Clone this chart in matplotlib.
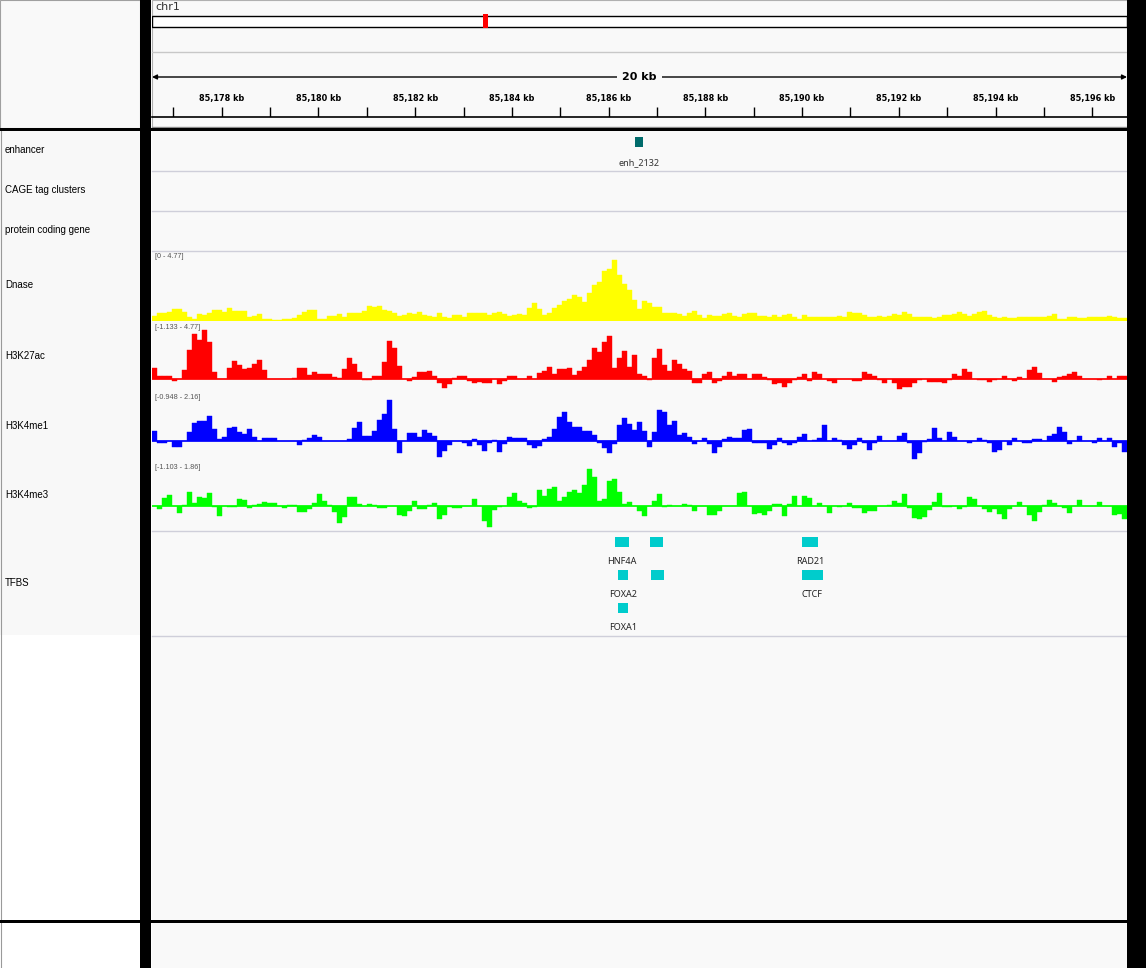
import matplotlib
matplotlib.use("Agg")
import matplotlib.pyplot as plt
import numpy as np
from matplotlib.patches import Rectangle

# ---------------- data ----------------
chrom_name = "chr1"
chrom_len_mb = 248.956422
region_start_kb = 85176.559
region_end_kb = 85196.717
n_bins = 195
span_label = "20 kb"
ruler_ticks_kb = list(range(85177, 85197))
ruler_labels_kb = list(range(85178, 85197, 2))

track_names = ["enhancer", "CAGE tag clusters", "protein coding gene", "Dnase",
               "H3K27ac", "H3K4me1", "H3K4me3", "TFBS"]

dnase = [0.36,0.52,0.57,0.64,0.8,0.84,0.61,0.3,0.16,0.48,0.41,0.57,0.75,0.75,0.61,0.89,0.7,0.66,0.66,0.25,
         0.36,0.5,0.16,0.11,0.07,0.07,0.11,0.16,0.23,0.39,0.59,0.75,0.75,0.16,0.16,0.36,0.36,0.45,0.3,0.57,
         0.57,0.52,0.7,1.02,0.93,1.02,0.75,0.66,0.57,0.34,0.41,0.55,0.45,0.61,0.39,0.34,0.3,0.52,0.3,0.18,
         0.39,0.39,0.3,0.52,0.52,
         0.57,0.57,0.41,0.57,0.64,0.48,0.34,0.41,0.48,0.39,0.89,1.2,0.8,0.39,0.52,0.89,1.09,1.36,1.48,1.75,
         1.61,1.3,1.93,2.43,2.66,3.39,3.52,4.16,3.16,2.52,2.11,1.43,0.8,1.36,1.2,0.93,0.93,0.52,0.52,0.52,
         0.45,0.34,0.52,0.66,0.41,0.23,0.41,0.34,0.34,0.48,0.52,0.34,0.3,0.48,0.52,0.52,0.36,0.34,0.3,0.39,
         0.3,0.39,0.48,0.25,0.11,
         0.39,0.25,0.25,0.25,0.25,0.25,0.3,0.36,0.3,0.6,0.52,0.55,0.4,0.3,0.3,0.36,0.3,0.34,0.5,0.4,
         0.6,0.5,0.3,0.3,0.3,0.25,0.2,0.3,0.4,0.4,0.45,0.6,0.45,0.36,0.45,0.6,0.7,0.4,0.25,0.2,
         0.3,0.2,0.2,0.25,0.3,0.3,0.3,0.3,0.3,0.36,0.5,0.15,0.15,0.3,0.25,0.2,0.2,0.3,0.3,0.25,
         0.3,0.36,0.3,0.2,0.2]

h3k27ac = [0.87,0.2,0.2,0.25,-0.2,0,0.7,2.39,3.74,3.23,4.07,3.06,0.53,0,0,0.87,1.49,1.12,0.81,0.87,
           1.21,1.54,0.7,0,0,0,0,0,0.08,0.93,0.93,0.31,0.53,0.42,0.42,0.37,0.14,0.05,0.81,1.71,
           1.21,0.53,-0.11,-0.08,0.2,0.25,1.38,3.17,2.56,1.04,0,-0.2,0.14,0.53,0.53,0.65,0.2,-0.37,-0.76,-0.48,
           0.08,0.2,0.2,-0.2,-0.37,
           -0.3,-0.37,-0.37,0,-0.42,-0.22,0.2,0.2,0,0,0.2,0,0.48,0.65,0.98,0.37,0.81,0.81,0.87,0.28,
           0.65,0.98,1.54,2.56,2.22,3.06,3.62,0.87,1.74,2.33,0.98,1.99,0.42,0.2,-0.08,1.71,2.5,1.12,0.65,1.54,
           1.21,0.81,0.65,-0.37,-0.37,0.37,0.59,-0.37,-0.2,0.2,0.53,0.2,0.37,0.37,0,0.37,0.37,0.14,-0.14,-0.42,
           -0.37,-0.7,-0.37,-0.14,0.14,
           0.37,-0.2,0.59,0.37,0,-0.2,-0.37,0,0,0,-0.2,-0.2,0.53,0.37,0.2,-0.08,-0.37,0,-0.37,-0.87,
           -0.7,-0.7,-0.37,-0.14,0,-0.25,-0.25,-0.25,-0.37,-0.08,0.37,0.25,0.79,0.53,0,-0.08,-0.08,-0.28,-0.08,0,
           0.2,0,-0.2,0.11,0,0.7,0.96,0.45,0,0,-0.28,0.11,0.2,0.37,0.53,0.2,0,0,0,-0.08,
           0,0.2,0,0.25,0.2]

h3k4me1 = [0.44,-0.09,-0.12,0,-0.3,-0.3,0,0.38,0.77,0.89,0.89,1.09,0.53,0.06,0.18,0.56,0.62,0.38,0.3,0.52,
           0.18,0,0.12,0.12,0.12,0,0,0,0,-0.21,0.03,0.12,0.25,0.18,0,0,0,0,0,0.09,
           0.56,0.83,0.21,0.21,0.41,0.92,1.18,1.8,0.5,-0.56,0,0.36,0.36,0.18,0.47,0.33,0.22,-0.71,-0.44,-0.21,
           0,0,-0.12,-0.24,0.09,
           -0.19,-0.44,-0.12,0.03,-0.49,-0.15,0.15,0.1,0.1,0.1,-0.21,-0.34,-0.24,0.06,0.15,0.5,1.07,1.27,0.83,0.61,
           0.61,0.43,0.43,0.25,-0.09,-0.34,-0.56,-0.15,0.71,1.01,0.74,0.47,0.83,0.41,-0.3,0.38,1.36,1.27,0.71,0.86,
           0.27,0.36,0.18,-0.16,0,0.1,-0.15,-0.56,-0.27,0.06,0.15,0.1,0.1,0.47,0.5,-0.09,-0.09,-0.12,-0.36,-0.19,
           0.1,-0.12,-0.21,-0.09,0.15,
           0.3,0,0.03,0.12,0.7,0,0.12,0.03,-0.19,-0.36,-0.19,0.12,-0.12,-0.41,-0.12,0.21,0,0,0,0.21,
           0.33,-0.09,-0.8,-0.56,-0.06,0.09,0.56,0.12,0,0.38,0.16,0,0,-0.09,0,0.12,0.03,-0.12,-0.49,-0.41,
           0,-0.19,0.12,0,-0.09,-0.12,0.06,0.09,0,0.22,0.3,0.61,0.38,-0.15,0,0.21,0,0,-0.12,0.12,
           0,0.12,-0.27,-0.12,-0.5]

h3k4me3 = [0,-0.11,0.34,0.48,0,-0.28,0.06,0.59,0.14,0.39,0.34,0.56,-0.06,-0.42,0,-0.03,-0.03,0.31,0.25,-0.08,
           0.03,0.08,0.17,0.14,0.14,0,-0.08,0.06,0.03,-0.25,-0.25,-0.11,0.14,0.51,0.2,0.03,-0.25,-0.73,-0.48,0.37,
           0.37,0.08,0,0.08,0.03,-0.08,-0.08,0,0,-0.39,-0.42,-0.2,0.23,-0.11,-0.11,0.03,0.11,-0.56,-0.37,-0.06,
           -0.08,-0.08,0,0,0.31,
           0,-0.65,-0.9,-0.18,-0.04,0,0.39,0.56,0.23,0.14,-0.08,-0.04,0.69,0.42,0.7,0.82,0.23,0.39,0.59,0.69,
           0.54,0.9,1.58,1.24,0.23,0.28,1.07,1.13,0.59,0.08,0.17,0,-0.23,-0.42,0,0.23,0.51,-0.06,0.06,0,
           0,0.08,0.06,-0.23,0,0,-0.39,-0.39,-0.2,0,0,0,0.56,0.59,0,-0.34,-0.31,-0.37,-0.23,0.08,
           0.1,-0.42,0.08,0.42,0,
           0.42,0.34,0,0.13,0,-0.31,0,-0.06,0,0.11,-0.08,-0.08,-0.31,-0.23,-0.23,0,0,0.06,0.23,0.14,
           0.51,-0.08,-0.51,-0.56,-0.48,-0.17,0.17,0.56,-0.03,-0.06,0,-0.14,-0.06,0.39,0.31,0,-0.14,-0.25,-0.11,-0.34,
           -0.56,-0.14,0,0.17,0,-0.39,-0.65,-0.25,0.06,0.25,0.14,0,-0.08,-0.31,0,0.25,0,0,0,0.17,
           0,0,-0.39,-0.34,-0.56]

signal_names = ["Dnase", "H3K27ac", "H3K4me1", "H3K4me3"]
signal_values = [dnase, h3k27ac, h3k4me1, h3k4me3]
signal_min = [0, -1.133, -0.948, -1.103]
signal_max = [4.77, 4.77, 2.16, 1.86]
signal_labels = ["[0 - 4.77]", "[-1.133 - 4.77]", "[-0.948 - 2.16]", "[-1.103 - 1.86]"]

enh_names = ["enh_2132"]
enh_start = [85186.544]
enh_end = [85186.710]

tfbs_names = ["HNF4A", "HNF4A", "RAD21", "FOXA2", "FOXA2", "CTCF", "FOXA1"]
tfbs_start = [85186.131, 85186.855, 85189.997, 85186.193, 85186.876, 85189.997, 85186.193]
tfbs_end = [85186.421, 85187.123, 85190.328, 85186.400, 85187.144, 85190.431, 85186.400]
tfbs_row = [0, 0, 0, 1, 1, 1, 2]
tfbs_show_label = [True, False, True, True, False, True, True]

# ---------------- styling / layout ----------------
W, H = 1146, 968
fig = plt.figure(figsize=(W / 100, H / 100), dpi=100)
fig.patch.set_facecolor("white")

DX0, DX1 = 152, 1127          # data panel
PANEL = "#f9f9f9"
SEP = "#cfcfda"
LABEL_FONT = ["Liberation Sans", "DejaVu Sans"]
FEAT_FONT = ["Noto Sans", "DejaVu Sans"]


def px_axes(x0, y0, x1, y1):
    ax = fig.add_axes([x0 / W, 1 - y1 / H, (x1 - x0) / W, (y1 - y0) / H])
    ax.set_axis_off()
    return ax


# chrome (panels, separators, names) in pixel space
chrome = px_axes(0, 0, W, H)
chrome.set_xlim(0, W)
chrome.set_ylim(H, 0)


def rect(ax, x0, y0, x1, y1, fc, ec="none", lw=0, z=1):
    ax.add_patch(Rectangle((x0, y0), x1 - x0, y1 - y0, facecolor=fc, edgecolor=ec, linewidth=lw, zorder=z))


rect(chrome, 0, 0, 140, 128, PANEL, "#a0a0a0", 0.8)
rect(chrome, 0, 131, 140, 635, "#f8f8f8")
rect(chrome, 0, 635, 140, 920, "white")
rect(chrome, 0, 923, 140, H, "white")
chrome.plot([0.5, 0.5], [131, H], color="#9a9a9a", lw=0.8, zorder=2)
rect(chrome, DX0, 0, DX1, 128, PANEL, "#b0b0b0", 0.8)
rect(chrome, DX0, 131, DX1, 920, PANEL)
rect(chrome, DX0, 923, DX1, H, PANEL)
# black frame
rect(chrome, 140, 0, 151, H, "black", z=3)
rect(chrome, DX1, 0, W, H, "black", z=3)
rect(chrome, 0, 128, W, 131, "black", z=3)
rect(chrome, 0, 920, W, 923, "black", z=3)
# header lines
chrome.plot([DX0, DX1], [51.5, 51.5], color="#c8c8c8", lw=1, zorder=2)
chrome.plot([DX0, DX1], [117, 117], color="black", lw=1.2, zorder=2)
chrome.plot([DX0, DX1], [126.5, 126.5], color="#8a8a8a", lw=1, zorder=2)
# track separators
for yy in [170.5, 210.5, 250.5, 530.5, 635.5]:
    chrome.plot([DX0, DX1], [yy, yy], color=SEP, lw=1, zorder=2)

name_y = [150, 190, 230, 285, 356, 426, 495, 583]
for nm, yy in zip(track_names, name_y):
    chrome.text(5, yy, nm, fontsize=7, family=LABEL_FONT, color="black", va="center", ha="left", zorder=4)

chrome.text(155, 7.5, chrom_name, fontsize=8, family=["DejaVu Sans"], color="#333333",
            va="center", ha="left", zorder=4)

# ideogram
ideo = px_axes(DX0, 13, DX1, 30)
ideo.set_xlim(0, chrom_len_mb)
ideo.set_ylim(30, 13)
ideo.add_patch(Rectangle((0, 16), chrom_len_mb, 10.7, facecolor="white", edgecolor="black", lw=1))
center_mb = (region_start_kb + region_end_kb) / 2 / 1000.0
marker_w = chrom_len_mb * 4.5 / (DX1 - DX0)
ideo.add_patch(Rectangle((center_mb - marker_w / 2, 14.3), marker_w, 14.2, facecolor="red", edgecolor="none"))

# ruler
ruler = px_axes(DX0, 60, DX1, 117)
ruler.set_xlim(region_start_kb, region_end_kb)
ruler.set_ylim(117, 60)
ruler.annotate("", xy=(region_start_kb, 77), xytext=(region_end_kb, 77),
               arrowprops=dict(arrowstyle="<|-|>", lw=1, color="black", mutation_scale=7,
                               shrinkA=0, shrinkB=0))
ruler.text((region_start_kb + region_end_kb) / 2, 77, span_label, fontsize=8, weight="bold",
           family=["DejaVu Sans"], ha="center", va="center",
           bbox=dict(facecolor=PANEL, edgecolor="none", pad=3.5))
ruler.vlines(ruler_ticks_kb, 106.5, 116.5, color="black", lw=1)
for kb in ruler_labels_kb:
    ruler.text(kb, 98, f"{kb:,} kb", fontsize=5.9, weight="bold", family=["DejaVu Sans"],
               ha="center", va="center")

# enhancer track
enh_ax = px_axes(DX0, 131, DX1, 170)
enh_ax.set_xlim(region_start_kb, region_end_kb)
enh_ax.set_ylim(170, 131)
for nm, s, e in zip(enh_names, enh_start, enh_end):
    enh_ax.add_patch(Rectangle((s, 137), e - s, 10, facecolor="#006b6b", edgecolor="none"))
    enh_ax.text((s + e) / 2, 163, nm, fontsize=6.5, family=FEAT_FONT, color="#333333",
                ha="center", va="center")

# signal tracks
bin_w = (region_end_kb - region_start_kb) / n_bins
starts = region_start_kb + np.arange(n_bins) * bin_w
track_px = [(251, 321), (322, 392), (392, 462), (462, 532)]
track_col = ["#ffff00", "#ff0000", "#0000ff", "#00ff00"]
for vals, lo, hi, lab, (y0, y1), col in zip(signal_values, signal_min, signal_max, signal_labels,
                                             track_px, track_col):
    ax = px_axes(DX0, y0, DX1, y1)
    ax.set_xlim(region_start_kb, region_end_kb)
    ax.set_ylim(lo, hi)
    ax.bar(starts, vals, width=bin_w, align="edge", color=col, edgecolor=col, linewidth=0.3)
    ax.axhline(0, color=col, lw=1.2)
    ax.text(0.003, 0.965, lab, transform=ax.transAxes, fontsize=5.2, family=LABEL_FONT,
            color="#555555", ha="left", va="top")

# TFBS track
tf_ax = px_axes(DX0, 531, DX1, 635)
tf_ax.set_xlim(region_start_kb, region_end_kb)
tf_ax.set_ylim(635, 531)
row_top = [537, 570, 603]
for nm, s, e, r, show in zip(tfbs_names, tfbs_start, tfbs_end, tfbs_row, tfbs_show_label):
    tf_ax.add_patch(Rectangle((s, row_top[r]), e - s, 10, facecolor="#00cccc", edgecolor="none"))
    if show:
        tf_ax.text((s + e) / 2, row_top[r] + 24.5, nm, fontsize=6.5, family=FEAT_FONT,
                   color="#222222", ha="center", va="center")

fig.savefig("out.png", dpi=100, facecolor=fig.get_facecolor())
